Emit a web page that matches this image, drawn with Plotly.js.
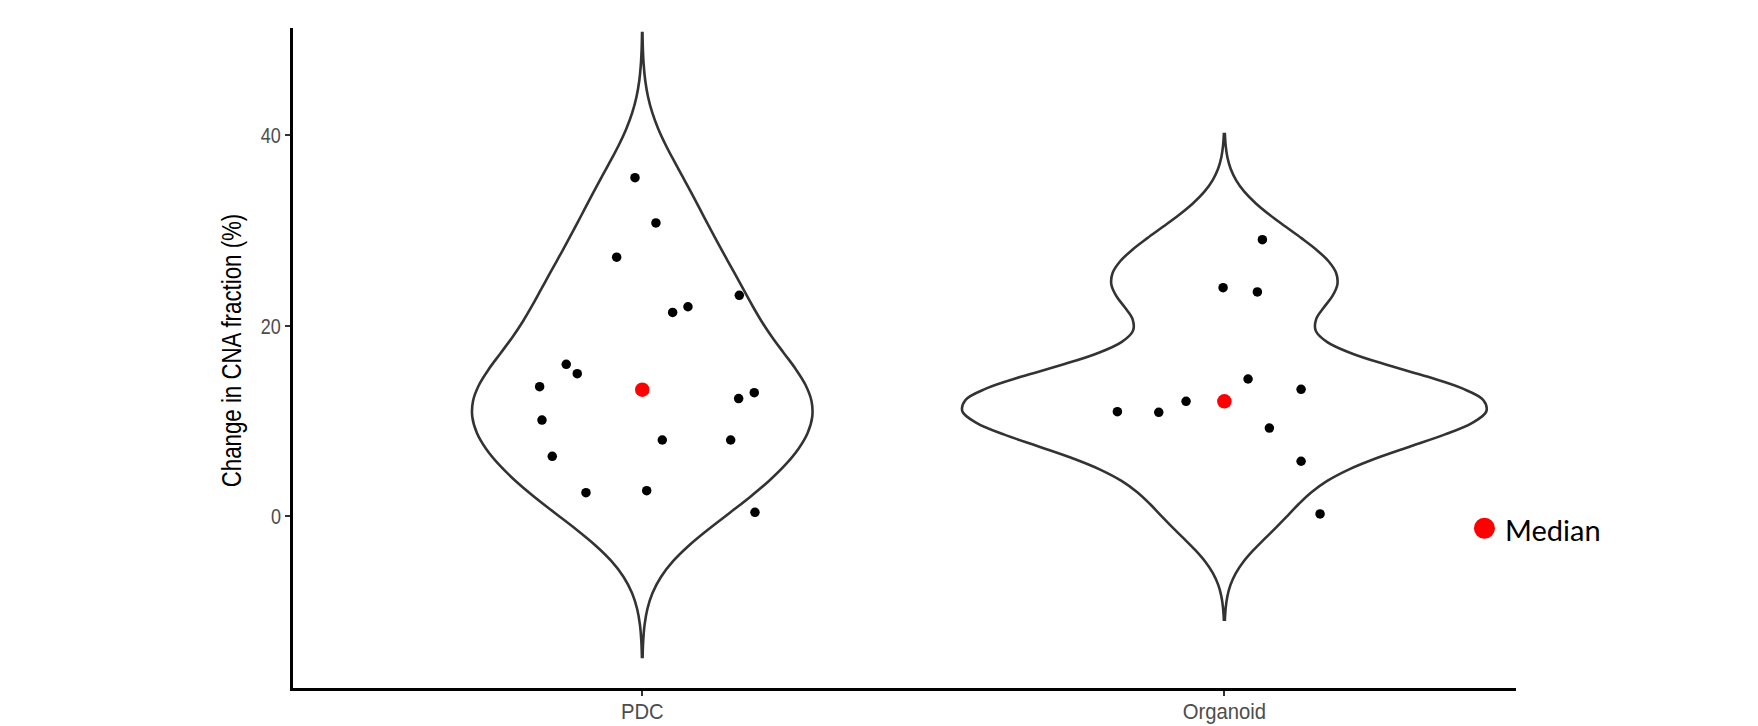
<!DOCTYPE html>
<html>
<head>
<meta charset="utf-8">
<script src="https://cdn.plot.ly/plotly-3.0.1.min.js"></script>
<style>
html, body { margin: 0; padding: 0; background: #ffffff; }
#chart { width: 1758px; height: 726px; }
</style>
</head>
<body>
<div id="chart"></div>
<script>
// ---- data ----
const categories = ['PDC', 'Organoid'];
const pdcValues = [35.56, 30.8, 27.2, 23.2, 21.4, 22.0, 15.95, 14.97, 13.6, 12.97, 12.35, 10.1, 8.0, 8.0, 6.29, 2.47, 2.68, 0.41];
const pdcJitter = [-0.0125, 0.0235, -0.044, 0.1667, 0.0522, 0.0785, -0.1306, -0.1117, -0.1763, 0.1924, 0.1656, -0.1723, 0.0344, 0.1519, -0.1546, -0.0967, 0.0076, 0.1936];
const organoidValues = [29.04, 24.0, 23.55, 14.41, 13.33, 10.98, 10.91, 12.07, 9.26, 5.77, 0.23];
const organoidJitter = [0.0653, -0.0022, 0.0567, 0.0407, 0.1318, -0.1838, -0.1127, -0.0658, 0.0773, 0.1318, 0.1644];
const yTicks = [0, 20, 40];
const yTitle = 'Change in CNA fraction (%)';
const legendLabel = 'Median';

// ---- helpers (R-style statistics, as ggplot2 geom_violin uses) ----
function sorted(a) { return a.slice().sort((p, q) => p - q); }
function quantile7(a, p) {
  const s = sorted(a); const h = (s.length - 1) * p;
  const lo = Math.floor(h), hi = Math.ceil(h);
  return s[lo] + (h - lo) * (s[hi] - s[lo]);
}
function sd(a) {
  const m = a.reduce((s, v) => s + v, 0) / a.length;
  return Math.sqrt(a.reduce((s, v) => s + (v - m) * (v - m), 0) / (a.length - 1));
}
function bwNrd0(a) {
  const iqr = quantile7(a, 0.75) - quantile7(a, 0.25);
  const lo = Math.min(sd(a), iqr / 1.34);
  return 0.9 * lo * Math.pow(a.length, -0.2);
}
function median(a) { return quantile7(a, 0.5); }

const FONT = 'Liberation Sans, Arial, Helvetica, sans-serif';
const groups = [
  { name: categories[0], pos: 1, values: pdcValues, jitter: pdcJitter },
  { name: categories[1], pos: 2, values: organoidValues, jitter: organoidJitter }
];

const traces = [];
groups.forEach(g => {
  const bw = bwNrd0(g.values);
  traces.push({
    type: 'violin', y: g.values, x0: g.pos, name: g.name,
    bandwidth: bw, spanmode: 'manual',
    span: [Math.min(...g.values) - 3 * bw, Math.max(...g.values) + 3 * bw],
    scalegroup: 'cna', scalemode: 'width',
    points: false, box: { visible: false }, meanline: { visible: false },
    line: { color: '#333333', width: 2.6 }, fillcolor: 'rgba(255,255,255,0)',
    hoverinfo: 'skip', showlegend: false
  });
});
groups.forEach(g => {
  traces.push({
    type: 'scatter', mode: 'markers',
    x: g.jitter.map(j => g.pos + j), y: g.values,
    marker: { color: '#000000', size: 9.5 },
    showlegend: false, hoverinfo: 'y'
  });
});
traces.push({
  type: 'scatter', mode: 'markers', name: legendLabel,
  x: groups.map(g => g.pos), y: groups.map(g => median(g.values)),
  marker: { color: '#ff0000', size: 14.5 },
  showlegend: false
});

const axisCommon = {
  showline: true, linecolor: '#000000', linewidth: 2.6,
  ticks: 'outside', ticklen: 5, tickwidth: 2, tickcolor: '#333333',
  tickfont: { family: FONT, size: 22.5, color: '#4d4d4d' },
  showgrid: false, zeroline: false, fixedrange: true
};

const layout = {
  width: 1758, height: 726,
  margin: { l: 293, r: 242, t: 28, b: 38 },
  paper_bgcolor: '#ffffff', plot_bgcolor: '#ffffff',
  violinmode: 'overlay', violingap: 0.1, violingroupgap: 0,
  showlegend: false,
  xaxis: Object.assign({}, axisCommon, {
    type: 'linear', range: [0.4, 2.501],
    tickmode: 'array', tickvals: groups.map(g => g.pos), ticktext: categories,
    ticklabelstandoff: -4
  }),
  yaxis: Object.assign({}, axisCommon, {
    type: 'linear', range: [-18.05, 51.28],
    tickmode: 'array', tickvals: yTicks, ticktext: yTicks.map(String),
    title: { text: yTitle, font: { family: FONT, size: 27.5, color: '#000000' }, standoff: 12 }
  }),
  shapes: [{
    type: 'circle', xref: 'paper', yref: 'paper',
    xsizemode: 'pixel', ysizemode: 'pixel',
    xanchor: 0.9742, yanchor: 0.242,
    x0: -10.5, x1: 10.5, y0: -10.5, y1: 10.5,
    fillcolor: '#ff0000', line: { width: 0 }
  }],
  annotations: [{
    xref: 'paper', yref: 'paper', x: 0.989, y: 0.2394,
    xanchor: 'left', yanchor: 'middle', showarrow: false,
    text: legendLabel, font: { family: 'Lato, Open Sans, sans-serif', size: 29, color: '#000000' }
  }]
};

// the reference uses a condensed Helvetica-like face; narrow the glyphs of the real text
function condense(selector, factor) {
  document.querySelectorAll(selector).forEach(t => {
    const len = t.getComputedTextLength();
    t.setAttribute('textLength', (len * factor).toFixed(2));
    t.setAttribute('lengthAdjust', 'spacingAndGlyphs');
  });
}

Plotly.newPlot('chart', traces, layout, { displayModeBar: false, staticPlot: true }).then(() => {
  condense('#chart .xtick text', 0.9);
  condense('#chart .ytick text', 0.8);
  condense('#chart text.ytitle', 0.81);
  const title = document.querySelector('#chart text.ytitle');
  if (title) {
    const tr = title.getAttribute('transform') || '';
    title.setAttribute('transform', 'translate(5.5,-7.5) ' + tr);
  }
});
</script>
</body>
</html>
